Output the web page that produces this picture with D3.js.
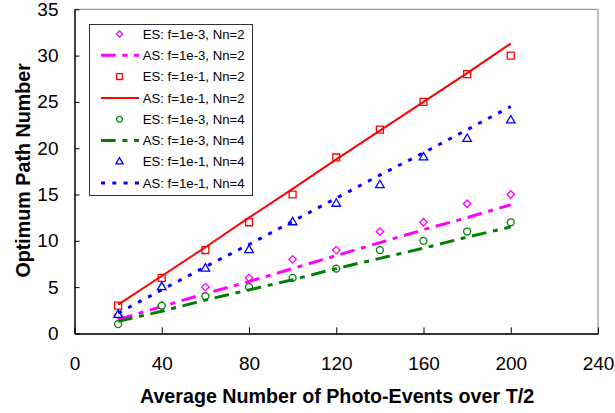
<!DOCTYPE html>
<html>
<head>
<meta charset="utf-8">
<script src="https://cdn.jsdelivr.net/npm/d3@7"></script>
<style>
  body { margin: 0; background: #fff; }
  text { font-family: "Liberation Sans", Arial, sans-serif; }
</style>
</head>
<body>
<div id="chart"></div>
<script>
// x positions (average number of photo-events over T/2)
const xVals = [20, 40, 60, 80, 100, 120, 140, 160, 180, 200];

// values
const esF3N2 = [2, 3, 5, 6, 8, 9, 11, 12, 14, 15];
const asF3N2 = [1.5, 2.9, 4.3, 5.6, 7.0, 8.4, 9.8, 11.2, 12.5, 13.9];
const esF1N2 = [3, 6, 9, 12, 15, 19, 22, 25, 28, 30];
const asF1N2 = [3.1, 6.2, 9.3, 12.5, 15.6, 18.8, 21.9, 25.0, 28.1, 31.3];
const esF3N4 = [1, 3, 4, 5, 6, 7, 9, 10, 11, 12];
const asF3N4 = [1.3, 2.4, 3.6, 4.7, 5.8, 7.0, 8.1, 9.2, 10.4, 11.5];
const esF1N4 = [2, 5, 7, 9, 12, 14, 16, 19, 21, 23];
const asF1N4 = [2.2, 4.7, 7.2, 9.6, 12.1, 14.6, 17.1, 19.5, 22.0, 24.5];

const xTicks = [0, 40, 80, 120, 160, 200, 240];
const yTicks = [0, 5, 10, 15, 20, 25, 30, 35];

const labels = ["ES: f=1e-3, Nn=2", "AS: f=1e-3, Nn=2", "ES: f=1e-1, Nn=2", "AS: f=1e-1, Nn=2",
                "ES: f=1e-3, Nn=4", "AS: f=1e-3, Nn=4", "ES: f=1e-1, Nn=4", "AS: f=1e-1, Nn=4"];

// series in legend order
const series = [
  {name: labels[0], values: esF3N2, type: "marker", color: "#ff00ff", shape: "diamond"},
  {name: labels[1], values: asF3N2, type: "line", color: "#ff00ff", width: 3, dash: "14.7,6.7,5,6.7"},
  {name: labels[2], values: esF1N2, type: "marker", color: "#ff0000", shape: "square"},
  {name: labels[3], values: asF1N2, type: "line", color: "#ff0000", width: 2, dash: null},
  {name: labels[4], values: esF3N4, type: "marker", color: "#008000", shape: "circle"},
  {name: labels[5], values: asF3N4, type: "line", color: "#008000", width: 3, dash: "14.7,6.7,5,6.7"},
  {name: labels[6], values: esF1N4, type: "marker", color: "#0000ff", shape: "triangle"},
  {name: labels[7], values: asF1N4, type: "line", color: "#0000ff", width: 3, dash: "4,7.3"}
];

const W = 615, H = 413;
const svg = d3.select("#chart").append("svg")
  .attr("width", W).attr("height", H);

const x = d3.scaleLinear().domain([0, 240]).range([74.5, 598]);
const y = d3.scaleLinear().domain([0, 35]).range([333.4, 9.3]);

// frame (top and right in grey)
svg.append("path")
  .attr("d", `M${x(0)},${y(35)}H${x(240)}V${y(0)}`)
  .attr("fill", "none").attr("stroke", "#808080").attr("stroke-width", 1);

// axes
const xAxis = svg.append("g")
  .attr("transform", `translate(0,${y(0)})`)
  .call(d3.axisBottom(x).tickValues(xTicks).tickSizeInner(-6).tickSizeOuter(0).tickPadding(23));
const yAxis = svg.append("g")
  .attr("transform", `translate(${x(0)},0)`)
  .call(d3.axisLeft(y).tickValues(yTicks).tickSizeInner(-5).tickSizeOuter(0).tickPadding(16));

[xAxis, yAxis].forEach(function(g) {
  g.selectAll("text").attr("font-size", 19).attr("fill", "#000")
    .attr("font-family", "Liberation Sans, Arial, sans-serif");
  g.selectAll(".tick line").attr("stroke", "#000");
});
xAxis.select(".domain").attr("stroke", "#333").attr("stroke-width", 2);
yAxis.select(".domain").attr("stroke", "#000").attr("stroke-width", 1.5);

// axis titles
svg.append("text")
  .attr("x", 337).attr("y", 403.3)
  .attr("text-anchor", "middle")
  .attr("font-size", 19.7).attr("font-weight", "bold")
  .text("Average Number of Photo-Events over T/2");
svg.append("text")
  .attr("transform", `translate(29.5,${(y(0) + y(35)) / 2 - 1}) rotate(-90)`)
  .attr("text-anchor", "middle")
  .attr("font-size", 19.7).attr("font-weight", "bold")
  .text("Optimum Path Number");

function symbolFor(shape, scale) {
  if (shape == "diamond") return d3.symbol().type(d3.symbolSquare).size(28 * scale)();
  if (shape == "square") return d3.symbol().type(d3.symbolSquare).size(48 * scale)();
  if (shape == "circle") return d3.symbol().type(d3.symbolCircle).size(38 * scale)();
  return d3.symbol().type(d3.symbolTriangle).size(32 * scale)();
}

const line = d3.line()
  .x(function(d, i) { return x(xVals[i]); })
  .y(function(d) { return y(d); });

// plot series
series.forEach(function(s) {
  if (s.type == "line") {
    svg.append("path")
      .datum(s.values)
      .attr("fill", "none")
      .attr("stroke", s.color)
      .attr("stroke-width", s.width)
      .attr("stroke-dasharray", s.dash)
      .attr("d", line);
  } else {
    svg.append("g").selectAll("path")
      .data(s.values)
      .join("path")
      .attr("transform", function(d, i) {
        return `translate(${x(xVals[i])},${y(d)})` + (s.shape == "diamond" ? " rotate(45)" : "");
      })
      .attr("d", symbolFor(s.shape, 1))
      .attr("fill", "#fff")
      .attr("stroke", s.color)
      .attr("stroke-width", 1.3);
  }
});

// legend
const legend = svg.append("g");
legend.append("rect")
  .attr("x", 89.5).attr("y", 24.5).attr("width", 163).attr("height", 171)
  .attr("fill", "#fff").attr("stroke", "#333").attr("stroke-width", 1);

series.forEach(function(s, i) {
  const ly = 34 + i * 21.3;
  if (s.type == "line") {
    legend.append("line")
      .attr("x1", 101).attr("x2", 139).attr("y1", ly).attr("y2", ly)
      .attr("stroke", s.color).attr("stroke-width", s.width)
      .attr("stroke-dasharray", s.dash);
  } else {
    legend.append("path")
      .attr("transform", `translate(119.5,${ly})` + (s.shape == "diamond" ? " rotate(45)" : ""))
      .attr("d", symbolFor(s.shape, 0.7))
      .attr("fill", "#fff").attr("stroke", s.color).attr("stroke-width", 1.3);
  }
  legend.append("text")
    .attr("x", 142.7).attr("y", ly + 4.6)
    .attr("font-size", 13.2)
    .text(s.name);
});
</script>
</body>
</html>
